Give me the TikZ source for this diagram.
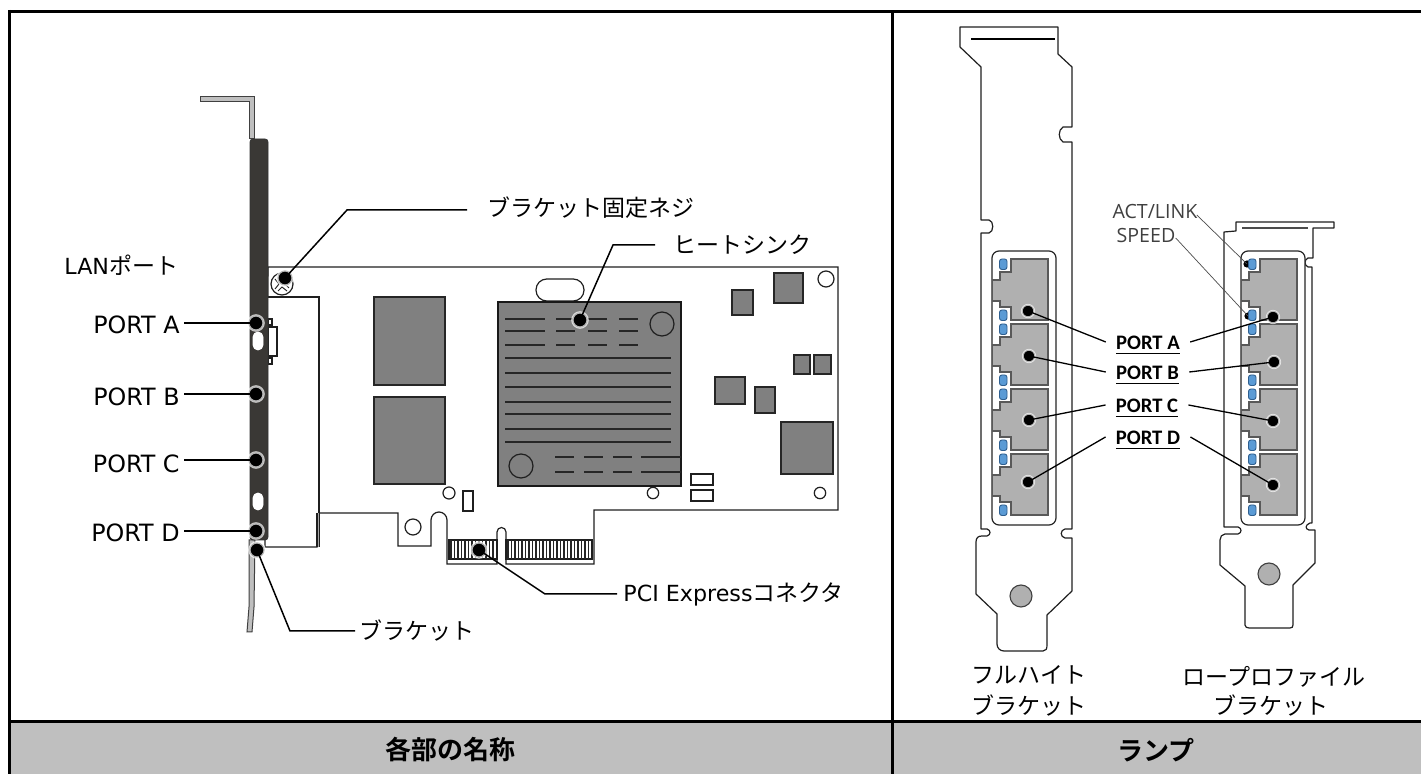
\documentclass[tikz,border=0pt]{standalone}
\usepackage{fontspec}
\setmainfont{DejaVu Sans}
\newfontfamily\jp{Noto Sans CJK JP}
\newfontfamily\jpb{Noto Sans CJK JP Bold}
\newfontfamily\carl{Carlito}
\newfontfamily\opn{Open Sans}
\definecolor{hdr}{HTML}{BFBFBF}
\definecolor{chip}{HTML}{808080}
\definecolor{bar}{HTML}{3A3835}
\definecolor{pgray}{HTML}{B0B0B0}
\definecolor{led}{HTML}{5B9BD5}
\definecolor{ledl}{HTML}{2F5F8F}
\tikzset{
  frameline/.style={line width=1.5pt,black},
  outl/.style={line width=0.6pt,black!88},
  chipbox/.style={fill=chip,draw=black!85,line width=0.6pt},
  fin/.style={line width=0.6pt,black!85},
  dotn/.style={circle,fill=black,draw=white,draw opacity=.7,line width=1.2pt,inner sep=0pt,minimum size=7.6pt,outer sep=0pt},
  dotr/.style={circle,fill=black,draw=white,draw opacity=.7,line width=.9pt,inner sep=0pt,minimum size=6.2pt,outer sep=0pt},
  leader/.style={line width=0.75pt,black},
  thinlead/.style={line width=0.35pt,black!70},
  jlabel/.style={inner sep=0pt,font=\fontsize{11.5}{14}\selectfont\jp},
  plabel/.style={inner sep=0pt,inner xsep=2pt,font=\fontsize{11.9}{14}\selectfont},
  blabel/.style={inner xsep=5pt,inner ysep=0pt,text height=8pt,text depth=0pt,font=\fontsize{10.3}{12}\selectfont\carl\bfseries},
  alabel/.style={inner sep=0pt,text=black!75,font=\fontsize{9.8}{12}\selectfont\opn},
  hlabel/.style={inner sep=0pt,font=\fontsize{13}{15}\selectfont\jpb},
  led box/.style={fill=led,draw=ledl,line width=0.45pt,rounded corners=1.2pt},
  port box/.style={fill=pgray,draw=black!65,line width=0.55pt},
}
\begin{document}
\begin{tikzpicture}[x=0.5pt,y=-0.5pt]
\useasboundingbox (0,0) rectangle (1421,774);
\fill[white] (0,0) rectangle (1421,774);
% header
\fill[hdr] (9.5,721.5) rectangle (1421,774);
\draw[frameline] (8,11.5) -- (1421,11.5);
\draw[frameline] (9.5,10) -- (9.5,774);
\draw[frameline] (892.5,11.5) -- (892.5,774);
\draw[frameline] (8,721.5) -- (1421,721.5);
\node[hlabel] (h1) at (450,750) {各部の名称};
\node[hlabel] (h2) at (1156,750) {ランプ};

% ---------- card ----------
\draw[outl,fill=white] (268,267) -- (838,267) -- (838,510) -- (594,510) -- (594,564) -- (506,564) -- (506,532)
  arc[start angle=0,end angle=-180,radius=4.5] -- (497,564) -- (447,564) -- (447,520)
  arc[start angle=0,end angle=-180,radius=8] -- (431,546) -- (398,546) -- (398,513) -- (317,513) -- (317,547) -- (265,547) -- (268,267);
% bracket inner line
\fill[white] (268,297) rectangle (319,513);
\draw[outl] (268,297) -- (319,297) -- (319,547);
\fill[chip!70] (317,513) rectangle (319,547);
\draw[outl] (317,513) -- (317,547);
% LAN connector at bracket
\draw[outl,fill=white] (268,327) rectangle (277,356);
\draw[outl,fill=white] (268,319) rectangle (272,325);
\draw[outl,fill=white] (268,358) rectangle (272,364);
% chips
\draw[chipbox] (374,297) rectangle (445,385);
\draw[chipbox] (374,397) rectangle (445,484);
\foreach \a/\b/\c/\d in {732/290/753/315,774/273/803/303,794/355/810/374,814/355/831/374,715/377/745/404,755/387/775/413,781/422/833/474}
  \draw[chipbox] (\a,\b) rectangle (\c,\d);
% oval
\draw[outl,fill=white,rounded corners=5.4pt] (536,279) rectangle (584,301);
% heatsink
\draw[fill=chip,draw=black!90,line width=.9pt] (498,302) rectangle (681,486);
\foreach \y in {319,331,345} {
  \draw[fin] (505,\y) -- (545,\y);
  \draw[fin] (556,\y) -- (575,\y);
  \draw[fin] (588,\y) -- (607,\y);
  \draw[fin] (619,\y) -- (638,\y);
}
\foreach \y in {358,373,387,402,414,429,442}
  \draw[fin] (505,\y) -- (671,\y);
\foreach \y in {457,472} {
  \draw[fin] (555,\y) -- (574,\y);
  \draw[fin] (584,\y) -- (603,\y);
  \draw[fin] (613,\y) -- (632,\y);
  \draw[fin] (641,\y) -- (681,\y);
}
\draw[outl] (662,324) circle[radius=12];
\draw[outl] (521,466) circle[radius=12];
% small things
\draw[outl] (826,279) circle[radius=8];
\draw[outl] (653,493) circle[radius=5.7];
\draw[outl] (820,493) circle[radius=5.7];
\draw[outl] (691,474) rectangle (713,485);
\draw[outl] (691,490) rectangle (713,501);
\draw[outl] (449,493) circle[radius=6];
\draw[outl] (463,491) rectangle (473,511);
\draw[outl] (413,527) circle[radius=8];
% gold fingers
\draw[outl] (449,540) rectangle (497,559);
\draw[outl] (506,540) rectangle (592,559);
\foreach \x in {451,454.5,...,496}
  \draw[line width=.55pt,black!85] (\x,540) -- (\x,559);
\foreach \x in {508,511.5,...,591}
  \draw[line width=.55pt,black!85] (\x,540) -- (\x,559);
% screw
\draw[outl,fill=white] (282,284) circle[radius=11];
\draw[line width=.5pt,black!85] (275,279) -- (279,284) -- (275,289) (278,291) -- (282,287) -- (287,291) (289,288) -- (285,284) -- (289,279);
% bracket plate
\draw[fill=hdr,draw=black!75,line width=.5pt] (200,97) -- (254,97) -- (254,139) -- (249,139) -- (249,102) -- (200,102) -- cycle;
\draw[fill=hdr,draw=black!75,line width=.5pt] (249,540) -- (255,540) -- (254,607) -- (252,632) -- (247,632) -- (249,607) -- cycle;
\draw[fill=bar,draw=black!80,line width=.4pt,rounded corners=1.5pt] (250,139) rectangle (268,540);
\draw[fill=white,draw=white,line width=.3pt,rounded corners=2.4pt] (253,332) rectangle (263,350);
\draw[fill=white,draw=white,line width=.3pt,rounded corners=2.4pt] (253,493) rectangle (263,510);

% left dots
\node[dotn] (dA) at (256,323) {};
\node[dotn] (dB) at (256,394) {};
\node[dotn] (dC) at (256,460) {};
\node[dotn] (dD) at (256,531) {};
\node[dotn] (dBr) at (257,550) {};
\node[dotn] (dSc) at (285,278) {};
\node[dotn] (dHs) at (580,320) {};
\node[dotn] (dPci) at (479,550) {};

% left labels
\node[jlabel,anchor=west] (lLan) at (64,265) {{\fontsize{11.1}{14}\selectfont\rmfamily LAN}ポート};
\node[plabel,anchor=east] (lA) at (184,325) {PORT A};
\node[plabel,anchor=east] (lB) at (184,397) {PORT B};
\node[plabel,anchor=east] (lC) at (184,464) {PORT C};
\node[plabel,anchor=east] (lD) at (184,533) {PORT D};
\node[jlabel,anchor=west] (lSc) at (487,208) {ブラケット固定ネジ};
\node[jlabel,anchor=west] (lHs) at (673,245) {ヒートシンク};
\node[jlabel,anchor=west] (lPci) at (623,594) {{\fontsize{11.1}{14}\selectfont\rmfamily PCI Express}コネクタ};
\node[jlabel,anchor=west] (lBr) at (359,631) {ブラケット};

\coordinate (eSc) at (467,210);
\coordinate (bSc) at (347,210);
\coordinate (eHs) at (655,245);
\coordinate (bHs) at (613,245);
\coordinate (ePci) at (617,594);
\coordinate (bPci) at (545,594);
\coordinate (eBr) at (355,631);
\coordinate (bBr) at (290,631);
\begin{scope}[leader]
\draw (lA.east |- dA) -- (dA.center);
\draw (lB.east |- dB) -- (dB.center);
\draw (lC.east |- dC) -- (dC.center);
\draw (lD.east |- dD) -- (dD.center);
\draw (eSc) -- (bSc) -- (dSc.center);
\draw (eHs) -- (bHs) -- (dHs.center);
\draw (ePci) -- (bPci) -- (dPci.center);
\draw (eBr) -- (bBr) -- (dBr.center);
\end{scope}

% ---------- full-height bracket ----------
\draw[outl,line join=round] (960,27) -- (1058,27) -- (1058,54) -- (1072,67) -- (1072,127) -- (1063,127)
  .. controls (1058,130) and (1058,139) .. (1063,142) -- (1072,142) -- (1072,529) -- (1065,529)
  .. controls (1060,530) and (1060,537) .. (1065,538) -- (1072,538) -- (1072,591) -- (1047,615) -- (1047,645)
  .. controls (1047,649) and (1046,651) .. (1043,651) -- (1004,651)
  .. controls (1000,651) and (997,648) .. (997,644) -- (997,614) -- (976,594) -- (976,542)
  .. controls (976,538) and (978,536) .. (982,536) -- (987,536)
  .. controls (991,535) and (991,530) .. (987,529) -- (981,529) -- (981,233) -- (989,233)
  .. controls (994,232) and (994,221) .. (989,220) -- (981,220) -- (981,67) -- (960,47) -- cycle;
\draw[line width=.55pt,black] (971,39) -- (1055,39);
\draw[fill=pgray,draw=black!75,line width=.55pt] (1021,596) circle[radius=11];

% ---------- low-profile bracket ----------
\draw[outl,line join=round] (1236,222) -- (1334,222) -- (1334,228) -- (1313,228) -- (1313,258) -- (1308,258)
  .. controls (1304,260) and (1304,265) .. (1308,267) -- (1312,267) -- (1312,523) -- (1310,523)
  .. controls (1305,525) and (1305,529) .. (1309,530) -- (1315,530) -- (1315,563) -- (1293,585) -- (1293,625)
  .. controls (1293,627) and (1292,628) .. (1290,628) -- (1249,628)
  .. controls (1247,628) and (1245,627) .. (1245,625) -- (1245,586) -- (1220,565) -- (1220,540)
  .. controls (1220,537) and (1222,534) .. (1225,534) -- (1238,534)
  .. controls (1242,533) and (1242,528) .. (1238,527) -- (1224,527) -- (1224,232) -- (1236,231) -- cycle;
\draw[line width=.6pt,black!70] (1242,228) -- (1308,228);
\draw[fill=pgray,draw=black!75,line width=.55pt] (1269,574) circle[radius=11];

% ---------- port panels ----------
\foreach \dx/\pan in {0/a,249/b} {
\begin{scope}[shift={(\dx,0)}]
  \draw[fill=white,draw=black!85,line width=.6pt,rounded corners=3.5pt] (992,251) rectangle (1056,525);
  \foreach \T in {259,324,389,454} {
    \draw[port box] (1011,\T) -- (1048,\T) -- (1048,\T+61) -- (1011,\T+61) -- (1011,\T+48) -- (1000,\T+48) -- (1000,\T+42) -- (992.5,\T+42) -- (992.5,\T+21) -- (1000,\T+21) -- (1000,\T+13) -- (1011,\T+13) -- cycle;
  }
\end{scope}
}
% ACT/LINK leaders under the LEDs
\node[alabel] (lAct) at (1155,212) {ACT/LINK};
\node[alabel] (lSpd) at (1146,236) {SPEED};
\fill[black] (1247,264) circle[radius=3.6] coordinate (pAct);
\fill[black] (1248,316) circle[radius=3.6] coordinate (pSpd);
\draw[thinlead] (lAct.east) ++(-1,3) -- (pAct);
\draw[thinlead] (lSpd.east) ++(0,2) -- (pSpd);
\foreach \dx/\pan in {0/a,249/b} {
\begin{scope}[shift={(\dx,0)}]
  \foreach \T in {259,324,389,454} {
    \draw[led box] (999.5,\T) rectangle (1007,\T+10.5);
    \draw[led box] (999.5,\T+51) rectangle (1007,\T+61.5);
  }
\end{scope}
}
% dots on ports
\node[dotr] (fA) at (1028,311) {};
\node[dotr] (fB) at (1029,356) {};
\node[dotr] (fC) at (1029,420) {};
\node[dotr] (fD) at (1028,482) {};
\node[dotr] (gA) at (1273,317) {};
\node[dotr] (gB) at (1274,362) {};
\node[dotr] (gC) at (1273,421) {};
\node[dotr] (gD) at (1273,485) {};

\node[blabel] (pA) at (1148,342) {\underline{PORT A}};
\node[blabel] (pB) at (1147.5,372) {\underline{PORT B}};
\node[blabel] (pC) at (1147,405) {\underline{PORT C}};
\node[blabel] (pD) at (1148,437) {\underline{PORT D}};
\begin{scope}[leader,line width=.65pt]
\draw (fA.center) -- (pA.west);
\draw (fB.center) -- (pB.west);
\draw (fC.center) -- (pC.west);
\draw (fD.center) -- (pD.west);
\draw (gA.center) -- (pA.east);
\draw (gB.center) -- (pB.east);
\draw (gC.center) -- (pC.east);
\draw (gD.center) -- (pD.east);
\end{scope}

% captions
\node[jlabel] (c1a) at (1029,675) {フルハイト};
\node[jlabel] (c1b) at (1029,706) {ブラケット};
\node[jlabel] (c2a) at (1274,677) {ロープロファイル};
\node[jlabel] (c2b) at (1271,706) {ブラケット};
\end{tikzpicture}
\end{document}
